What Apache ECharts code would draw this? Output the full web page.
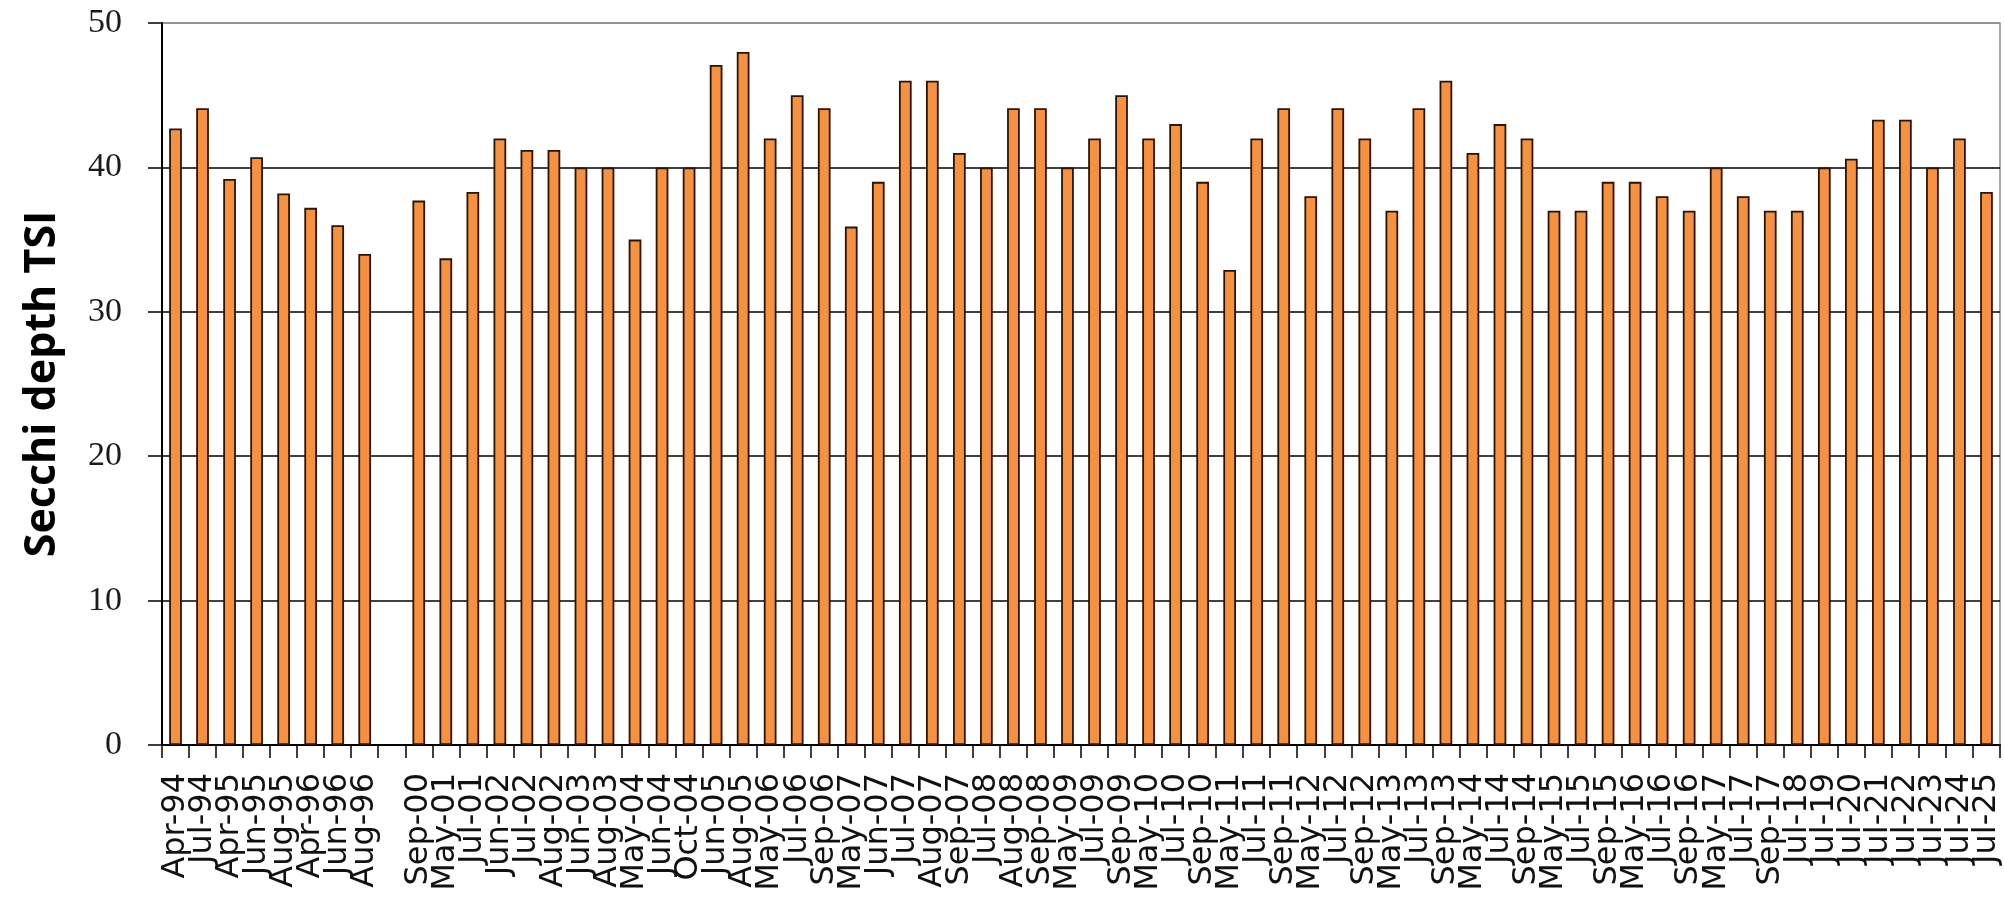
<!DOCTYPE html>
<html>
<head>
<meta charset="utf-8">
<title>Secchi depth TSI</title>
<script src="https://cdn.jsdelivr.net/npm/echarts@6/dist/echarts.min.js"></script>
<style>
  html, body { margin: 0; padding: 0; background: #fff; }
  #chart-wrapper { width: 2004px; height: 904px; }
</style>
</head>
<body>
<div id="chart-wrapper"></div>
<script>
// sampling dates (one gap between 1996 and 2000)
const dates = [
  "Apr-94", "Jul-94", "Apr-95", "Jun-95", "Aug-95", "Apr-96", "Jun-96", "Aug-96", "",
  "Sep-00", "May-01", "Jul-01", "Jun-02", "Jul-02", "Aug-02", "Jun-03", "Aug-03",
  "May-04", "Jun-04", "Oct-04", "Jun-05", "Aug-05", "May-06", "Jul-06", "Sep-06",
  "May-07", "Jun-07", "Jul-07", "Aug-07", "Sep-07", "Jul-08", "Aug-08", "Sep-08",
  "May-09", "Jul-09", "Sep-09", "May-10", "Jul-10", "Sep-10", "May-11", "Jul-11",
  "Sep-11", "May-12", "Jul-12", "Sep-12", "May-13", "Jul-13", "Sep-13", "May-14",
  "Jul-14", "Sep-14", "May-15", "Jul-15", "Sep-15", "May-16", "Jul-16", "Sep-16",
  "May-17", "Jul-17", "Sep-17", "Jul-18", "Jul-19", "Jul-20", "Jul-21", "Jul-22",
  "Jul-23", "Jul-24", "Jul-25"
];

// Secchi depth trophic state index
const tsiValues = [
  42.7, 44.1, 39.2, 40.7, 38.2, 37.2, 36.0, 34.0, null,
  37.7, 33.7, 38.3, 42.0, 41.2, 41.2, 40.0, 40.0,
  35.0, 40.0, 40.0, 47.1, 48.0, 42.0, 45.0, 44.1,
  35.9, 39.0, 46.0, 46.0, 41.0, 40.0, 44.1, 44.1,
  40.0, 42.0, 45.0, 42.0, 43.0, 39.0, 32.9, 42.0,
  44.1, 38.0, 44.1, 42.0, 37.0, 44.1, 46.0, 41.0,
  43.0, 42.0, 37.0, 37.0, 39.0, 39.0, 38.0, 37.0,
  40.0, 38.0, 37.0, 37.0, 40.0, 40.6, 43.3, 43.3,
  40.0, 42.0, 38.3
];

const yTicks = [0, 10, 20, 30, 40, 50];

let chart;

const init_handler = () => {
  const chartDom = document.getElementById("chart-wrapper");
  chart = echarts.init(chartDom, null, { renderer: "canvas" });

  const option = {
    animation: false,
    backgroundColor: "#fff",
    grid: {
      left: 162,
      right: 4,
      top: 23,
      bottom: 159,
      show: true,
      borderColor: "#8c8c8c",
      borderWidth: 1.5,
    },
    xAxis: {
      type: "category",
      data: dates,
      boundaryGap: true,
      axisLine: { lineStyle: { color: "#000", width: 2 } },
      axisTick: {
        show: true,
        length: 13,
        interval: 0,
        lineStyle: { color: "#000", width: 1.5 },
      },
      axisLabel: {
        interval: 0,
        rotate: 90,
        margin: 28,
        fontFamily: "DejaVu Sans",
        fontSize: 32,
        color: "#111",
      },
    },
    yAxis: {
      type: "value",
      min: yTicks[0],
      max: yTicks[yTicks.length - 1],
      interval: 10,
      name: "Secchi depth TSI",
      nameLocation: "middle",
      nameRotate: 90,
      nameGap: 98,
      nameTextStyle: {
        fontFamily: "Open Sans",
        fontWeight: "bold",
        fontSize: 43,
        color: "#000",
      },
      axisLine: { show: true, lineStyle: { color: "#000", width: 2 } },
      axisTick: { show: true, length: 14, lineStyle: { color: "#000", width: 1.5 } },
      axisLabel: {
        margin: 40,
        fontFamily: "Liberation Serif",
        fontSize: 34,
        color: "#1a1a1a",
      },
      splitLine: {
        show: true,
        lineStyle: {
          color: ["#000", "#000", "#000", "#000", "#000", "#8c8c8c"],
          width: 1.5,
        },
      },
    },
    series: [
      {
        type: "bar",
        data: tsiValues,
        barWidth: "47%",
        itemStyle: {
          color: "#F6923F",
          borderColor: "#2a1408",
          borderWidth: 1.8,
        },
      },
    ],
  };
  chart.setOption(option);
};

window.onload = init_handler;
</script>
</body>
</html>
